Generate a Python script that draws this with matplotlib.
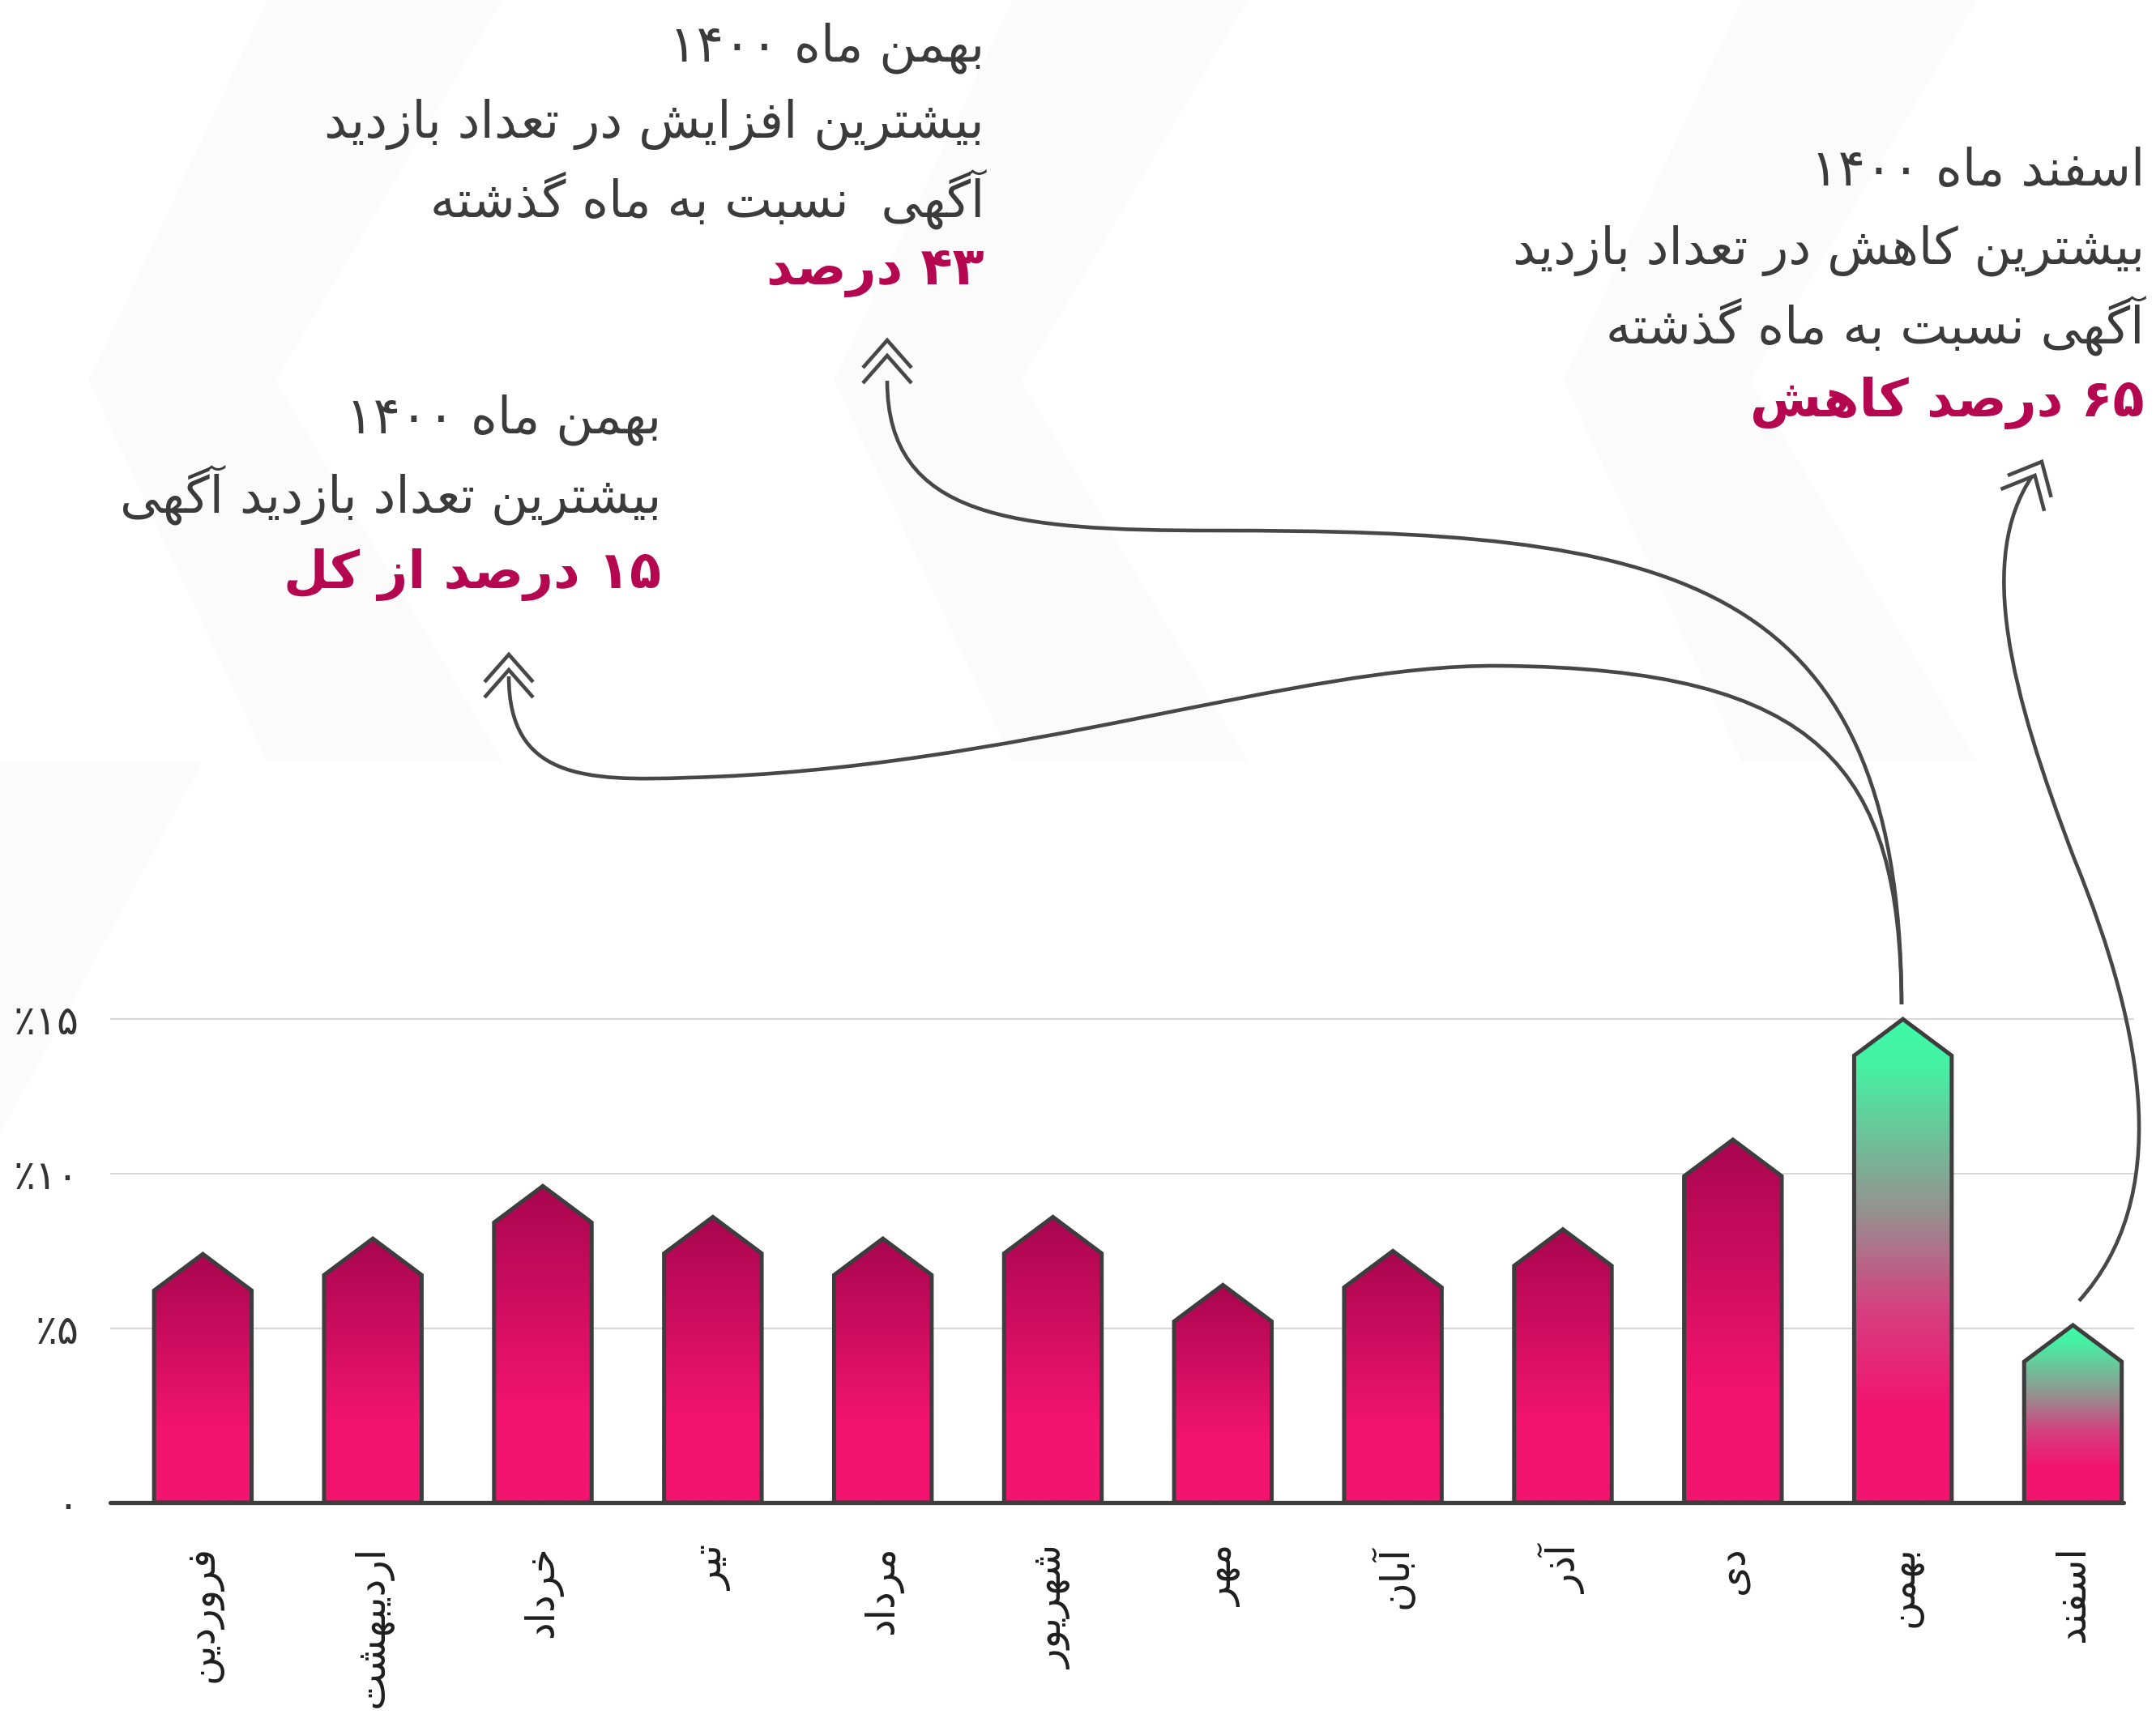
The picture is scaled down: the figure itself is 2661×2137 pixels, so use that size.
import re
import numpy as np
import matplotlib
matplotlib.use('Agg')
import matplotlib.pyplot as plt
from matplotlib.patches import Polygon
from matplotlib.path import Path
from matplotlib.patches import PathPatch
from matplotlib.colors import LinearSegmentedColormap

plt.rcParams['font.family'] = ['DejaVu Sans']

# ---- data ----
months = ['فروردین', 'اردیبهشت', 'خرداد', 'تیر', 'مرداد', 'شهریور',
          'مهر', 'آبان', 'آذر', 'دی', 'بهمن', 'اسفند']
share = [7.4, 7.9, 9.6, 8.6, 7.9, 8.6, 6.4, 7.5, 8.2, 11.1, 15.0, 5.1]
highlight = [False] * 10 + [True, True]
yticks = [5, 10, 15]
ytick_labels = ['۵٪', '۱۰٪', '۱۵٪']

note_bahman_up = ['بهمن ماه ۱۴۰۰', 'بیشترین افزایش در تعداد بازدید', 'آگهی  نسبت به ماه گذشته']
note_bahman_up_big = '۴۳ درصد'
note_esfand = ['اسفند ماه ۱۴۰۰', 'بیشترین کاهش در تعداد بازدید', 'آگهی نسبت به ماه گذشته']
note_esfand_big = '۶۵ درصد کاهش'
note_bahman_top = ['بهمن ماه ۱۴۰۰', 'بیشترین تعداد بازدید آگهی']
note_bahman_top_big = '۱۵ درصد از کل'


# ---- tiny persian shaper (no arabic_reshaper available) ----
FORMS = {
    'ا': ('\uFE8D', '\uFE8E'), 'آ': ('\uFE81', '\uFE82'),
    'ب': ('\uFE8F', '\uFE90', '\uFE91', '\uFE92'),
    'پ': ('\uFB56', '\uFB57', '\uFB58', '\uFB59'),
    'ت': ('\uFE95', '\uFE96', '\uFE97', '\uFE98'),
    'خ': ('\uFEA5', '\uFEA6', '\uFEA7', '\uFEA8'),
    'د': ('\uFEA9', '\uFEAA'), 'ذ': ('\uFEAB', '\uFEAC'),
    'ر': ('\uFEAD', '\uFEAE'), 'ز': ('\uFEAF', '\uFEB0'),
    'س': ('\uFEB1', '\uFEB2', '\uFEB3', '\uFEB4'),
    'ش': ('\uFEB5', '\uFEB6', '\uFEB7', '\uFEB8'),
    'ص': ('\uFEB9', '\uFEBA', '\uFEBB', '\uFEBC'),
    'ع': ('\uFEC9', '\uFECA', '\uFECB', '\uFECC'),
    'ف': ('\uFED1', '\uFED2', '\uFED3', '\uFED4'),
    'ک': ('\uFB8E', '\uFB8F', '\uFB90', '\uFB91'),
    'گ': ('\uFB92', '\uFB93', '\uFB94', '\uFB95'),
    'ل': ('\uFEDD', '\uFEDE', '\uFEDF', '\uFEE0'),
    'م': ('\uFEE1', '\uFEE2', '\uFEE3', '\uFEE4'),
    'ن': ('\uFEE5', '\uFEE6', '\uFEE7', '\uFEE8'),
    'ه': ('\uFEE9', '\uFEEA', '\uFEEB', '\uFEEC'),
    'و': ('\uFEED', '\uFEEE'),
    'ی': ('\uFBFC', '\uFBFD', '\uFBFE', '\uFBFF'),
}
DIGITS = '۰۱۲۳۴۵۶۷۸۹0123456789'


def shape(text):
    out = []
    for i, ch in enumerate(text):
        f = FORMS.get(ch)
        if f is None:
            out.append(ch)
            continue
        prev = text[i - 1] if i > 0 else ''
        nxt = text[i + 1] if i + 1 < len(text) else ''
        join_prev = prev in FORMS and len(FORMS[prev]) == 4
        join_next = len(f) == 4 and nxt in FORMS
        if join_prev and join_next:
            out.append(f[3])
        elif join_prev:
            out.append(f[1])
        elif join_next:
            out.append(f[2])
        else:
            out.append(f[0])
    return ''.join(out)


def rtl(text):
    s = shape(text)
    runs = re.findall('[%s]+|[^%s]+' % (DIGITS, DIGITS), s)
    return ''.join(r if r[0] in DIGITS else r[::-1] for r in reversed(runs))


# ---- figure ----
W, H = 2661, 2137
fig = plt.figure(figsize=(W / 100, H / 100), dpi=100)
fig.patch.set_facecolor('white')

# very faint background chevrons (pixel coords)
bg = fig.add_axes([0, 0, 1, 1], zorder=0)
bg.set_xlim(0, W)
bg.set_ylim(H, 0)
bg.axis('off')
chevrons = [
    [(330, 0), (620, 0), (340, 470), (620, 940), (330, 940), (110, 470)],
    [(1250, 0), (1540, 0), (1260, 470), (1540, 940), (1250, 940), (1030, 470)],
    [(2150, 0), (2440, 0), (2160, 470), (2440, 940), (2150, 940), (1930, 470)],
    [(0, 940), (250, 940), (0, 1400)],
]
for c in chevrons:
    bg.add_patch(Polygon(c, closed=True, fc='#fbfbfb', ec='none'))

# main chart axes
left, right = 136, 2634
base_px, top_px = 1855, 1220
ax = fig.add_axes([left / W, 1 - base_px / H, (right - left) / W, (base_px - top_px) / H], zorder=2)
ax.patch.set_alpha(0)

base = -0.64
bar_w = 0.574
roof = 1.18
edge = '#3d3d3d'

pink = LinearSegmentedColormap.from_list(
    'pink', [(0, '#a9064f'), (0.7, '#f2146f'), (1, '#f2146f')])
green = LinearSegmentedColormap.from_list(
    'green', [(0, '#3dfba7'), (0.1, '#47f0a3'), (0.4, '#979090'),
              (0.6, '#d6407f'), (0.8, '#f2146f'), (1, '#f2146f')])

grad = np.linspace(0, 1, 256).reshape(-1, 1)
for i, v in enumerate(share):
    x0, x1 = i - bar_w / 2, i + bar_w / 2
    sh = v - roof
    verts = [(x0, base), (x0, sh), (i, v), (x1, sh), (x1, base)]
    poly = Polygon(verts, closed=True, fc='none', ec=edge, lw=3.6,
                   joinstyle='miter', zorder=4)
    ax.add_patch(poly)
    im = ax.imshow(grad, cmap=green if highlight[i] else pink,
                   extent=[x0, x1, base, v], origin='upper', aspect='auto',
                   interpolation='bilinear', zorder=3)
    im.set_clip_path(poly)

for t in yticks:
    ax.axhline(t, color='#d8d8d8', lw=1.5, zorder=1)
ax.plot([-0.545, 11.30], [base, base], color=edge, lw=3.8,
        solid_capstyle='round', zorder=5, clip_on=False)

ax.set_xlim(-0.545, 11.36)
ax.set_ylim(base, 16)
ax.set_yticks([base] + yticks)
ax.set_yticklabels([rtl('۰')] + [rtl(s) for s in ytick_labels],
                   fontsize=36, color='#333333')
ax.set_xticks(range(len(months)))
ax.set_xticklabels([rtl(m) for m in months], rotation=90, va='top',
                   ha='center', fontsize=35, color='#1e1e1e')
ax.tick_params(axis='both', length=0)
ax.tick_params(axis='y', pad=28)
ax.tick_params(axis='x', pad=38)
for s in ax.spines.values():
    s.set_visible(False)

# foreground overlay: curves, arrowheads and notes
fg = fig.add_axes([0, 0, 1, 1], zorder=6)
fg.set_xlim(0, W)
fg.set_ylim(H, 0)
fg.axis('off')
fg.patch.set_alpha(0)

line_c = '#474747'
M, C = Path.MOVETO, Path.CURVE4
curves = [
    # to the 43% note
    [(1095, 470), (1095, 640), (1250, 655), (1500, 655),
     (2050, 655), (2345, 700), (2347, 1240)],
    # to the 15% note
    [(628, 835), (628, 960), (720, 965), (850, 960),
     (1250, 950), (1600, 820), (1850, 822),
     (2250, 825), (2345, 950), (2347, 1240)],
    # to the 65% note
    [(2508, 588), (2440, 690), (2480, 850), (2560, 1060),
     (2650, 1280), (2680, 1480), (2566, 1606)],
]
for pts in curves:
    codes = [M] + [C] * (len(pts) - 1)
    fg.add_patch(PathPatch(Path(pts, codes), fc='none', ec=line_c, lw=3.3,
                           capstyle='butt'))


def chevrons_at(tip, direction):
    d = np.array(direction, float)
    d /= np.hypot(*d)
    n = np.array([-d[1], d[0]])
    t = np.array(tip, float)
    for k in range(2):
        p = t - 19 * k * d
        a = p - 34 * d + 30 * n
        b = p - 34 * d - 30 * n
        fg.plot([a[0], p[0], b[0]], [a[1], p[1], b[1]], color=line_c, lw=3.3,
                solid_joinstyle='miter', solid_capstyle='butt')


chevrons_at((1095, 420), (0, -1))
chevrons_at((628, 808), (0, -1))
chevrons_at((2520, 570), (0.5, -1))

dark = '#3b3b3b'
mag = '#b4074f'


def note(lines, big, x, ys, size=45, big_size=46):
    for s, y in zip(lines, ys):
        fg.text(x, y, rtl(s), ha='right', va='center', fontsize=size, color=dark)
    fg.text(x, ys[len(lines)], rtl(big), ha='right', va='center',
            fontsize=big_size, fontweight='bold', color=mag)


note(note_bahman_up, note_bahman_up_big, 1215, [59, 153, 246, 336])
note(note_esfand, note_esfand_big, 2647, [212, 309, 402, 497])
note(note_bahman_top, note_bahman_top_big, 816, [518, 611, 709])

fig.savefig('out.png', dpi=100, facecolor='white')
